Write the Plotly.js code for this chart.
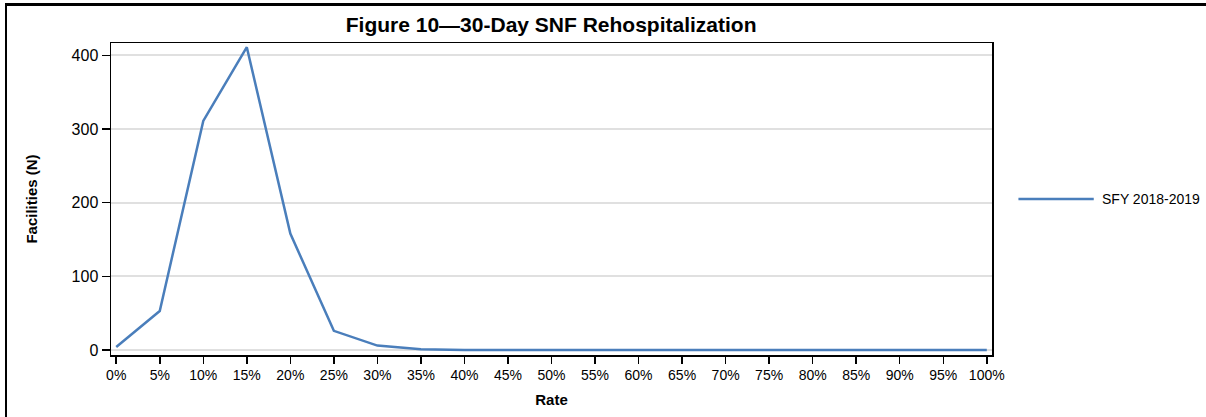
<!DOCTYPE html>
<html>
<head>
<meta charset="utf-8">
<script src="https://cdn.plot.ly/plotly-3.0.1.min.js"></script>
<style>
  html, body { margin: 0; padding: 0; background: #fff; }
  #wrap { position: relative; width: 1206px; height: 417px; }
  #chart { width: 1206px; height: 417px; }
  #frame { position: absolute; left: 5px; top: 3px; width: 1201px; height: 414px;
           border-top: 3px solid #000; border-left: 2px solid #000; pointer-events: none; box-sizing: border-box; }
</style>
</head>
<body>
<div id="wrap">
  <div id="chart"></div>
  <div id="frame"></div>
</div>
<script>
const rates = [0, 5, 10, 15, 20, 25, 30, 35, 40, 45, 50, 55, 60, 65, 70, 75, 80, 85, 90, 95, 100];
const facilities = [4, 53, 311, 411, 158, 26, 6, 1, 0, 0, 0, 0, 0, 0, 0, 0, 0, 0, 0, 0, 0];
const seriesName = 'SFY 2018-2019';
const yTicks = [0, 100, 200, 300, 400];

const lineColor = '#4a7ebb';

const trace = {
  x: rates,
  y: facilities,
  type: 'scatter',
  mode: 'lines',
  name: seriesName,
  line: { color: lineColor, width: 2.5 },
  showlegend: false,
  hoverinfo: 'x+y'
};

const layout = {
  width: 1206,
  height: 417,
  margin: { l: 111, r: 214, t: 43, b: 62 },
  paper_bgcolor: '#fff',
  plot_bgcolor: '#fff',
  font: { family: 'Liberation Sans, Arial, sans-serif', color: '#000' },
  title: {
    text: '<b>Figure 10\u201430-Day SNF Rehospitalization</b>',
    font: { size: 21, family: 'Liberation Sans, Arial, sans-serif', color: '#000' },
    x: 0.457, xanchor: 'center',
    y: 0.94, yanchor: 'middle'
  },
  xaxis: {
    range: [-0.6, 100.6],
    tickmode: 'array',
    tickvals: rates,
    ticktext: rates.map(r => r + '%'),
    ticks: 'outside', ticklen: 7, tickwidth: 1.5, tickcolor: '#000',
    tickfont: { size: 14 },
    showgrid: false,
    zeroline: false,
    showline: true, linecolor: '#000', linewidth: 1.5, mirror: true,
    title: { text: '<b>Rate</b>', font: { size: 15 }, standoff: 12 }
  },
  yaxis: {
    range: [-6.8, 416.7],
    tickmode: 'array',
    tickvals: yTicks,
    ticks: 'outside', ticklen: 8, tickwidth: 1.5, tickcolor: '#000',
    tickfont: { size: 16 },
    showgrid: true, gridcolor: '#e0e0e0', gridwidth: 2,
    zeroline: false,
    showline: true, linecolor: '#000', linewidth: 1.5, mirror: true,
    title: { text: '<b>Facilities (N)</b>', font: { size: 15 }, standoff: 30 }
  },
  shapes: [
    { type: 'line', xref: 'paper', yref: 'paper', x0: 1.03, x1: 1.1155, y0: 0.5, y1: 0.5,
      line: { color: lineColor, width: 2.5 } }
  ],
  annotations: [
    { xref: 'paper', yref: 'paper', x: 1.123, y: 0.5, xanchor: 'left', yanchor: 'middle',
      text: seriesName, showarrow: false, font: { size: 14, color: '#000' } }
  ]
};

Plotly.newPlot('chart', [trace], layout, { displayModeBar: false, staticPlot: true });
</script>
</body>
</html>
